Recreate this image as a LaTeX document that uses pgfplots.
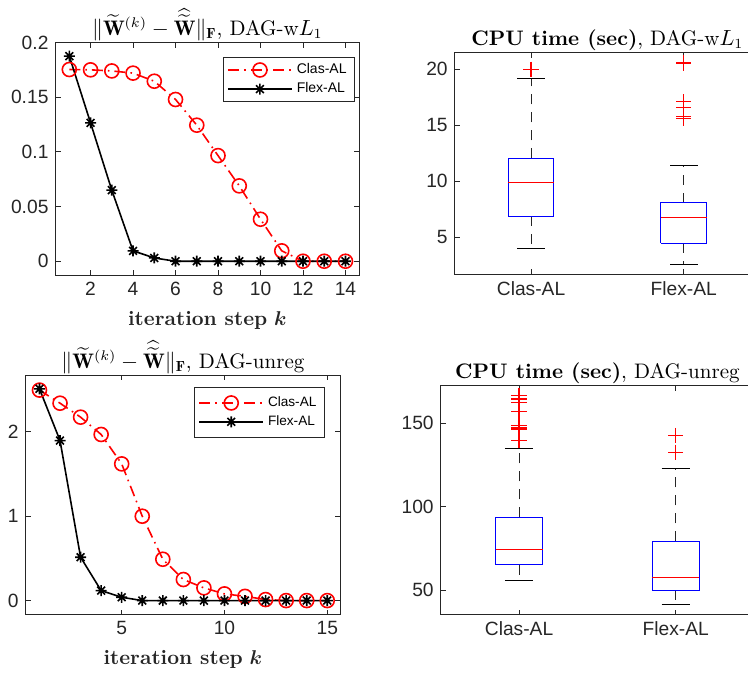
\documentclass[border=0pt]{standalone}
\usepackage{fontspec}
\usepackage{amsmath}
\usepackage{pgfplots}
\pgfplotsset{compat=1.18}
\newfontfamily\arial{Liberation Sans}
\definecolor{axgray}{RGB}{38,38,38}
\pgfdeclareplotmark{mstar}{%
  \pgfpathmoveto{\pgfqpoint{-\pgfplotmarksize}{0pt}}\pgfpathlineto{\pgfqpoint{\pgfplotmarksize}{0pt}}%
  \pgfpathmoveto{\pgfqpoint{0pt}{-\pgfplotmarksize}}\pgfpathlineto{\pgfqpoint{0pt}{\pgfplotmarksize}}%
  \pgfpathmoveto{\pgfqpoint{-0.707\pgfplotmarksize}{-0.707\pgfplotmarksize}}\pgfpathlineto{\pgfqpoint{0.707\pgfplotmarksize}{0.707\pgfplotmarksize}}%
  \pgfpathmoveto{\pgfqpoint{-0.707\pgfplotmarksize}{0.707\pgfplotmarksize}}\pgfpathlineto{\pgfqpoint{0.707\pgfplotmarksize}{-0.707\pgfplotmarksize}}%
  \pgfusepathqstroke}
\pgfplotsset{
  mstyle/.style={
    scale only axis, anchor=south west,
    axis line style={axgray, line width=0.5pt},
    tick style={axgray, line width=0.5pt},
    tick align=inside, major tick length=2.5pt,
    ticklabel style={font=\arial\fontsize{9.6}{11}\selectfont, text=axgray},
    /pgf/number format/assume math mode=true,
    every axis title/.style={font=\fontsize{10.5}{12}\selectfont, at={(axis description cs:0.5,1)}, anchor=base, yshift=3.5pt, inner sep=0pt},
    xlabel style={font=\fontsize{10.3}{12}\selectfont, at={(axis description cs:0.5,0)}, anchor=base, yshift=-25pt, inner sep=0pt, text=axgray},
    legend cell align=left,
    legend image code/.code={\draw[mark repeat=2, mark phase=2, ##1] plot coordinates {(0pt,0pt)(16pt,0pt)(32pt,0pt)};},
  },
  clas/.style={red, line width=0.8pt, dash pattern=on 5.5pt off 2.5pt on 0.8pt off 2.5pt, mark=o, mark size=3.5pt, mark options={solid, line width=0.8pt}},
  flex/.style={black, line width=0.8pt, mark=mstar, mark size=2.75pt, mark options={solid, line width=0.8pt}},
  bx/.style={blue, line width=0.5pt, no marks, forget plot},
  bmed/.style={red, line width=0.5pt, no marks, forget plot},
  bwh/.style={black!85, line width=0.45pt, dash pattern=on 5pt off 4pt, no marks, forget plot},
  bcap/.style={black, line width=0.45pt, no marks, forget plot},
  bout/.style={red, only marks, mark=+, mark size=3.8pt, mark options={line width=0.6pt}, forget plot},
}
\begin{document}
\begin{tikzpicture}
% ---------- top left ----------
\begin{axis}[mstyle, at={(27.75pt,201pt)}, width=151.9pt, height=116.25pt,
  xmin=0.35, xmax=14.65, ymin=-0.0126, ymax=0.2,
  xtick={2,4,...,14}, ytick={0,0.05,0.1,0.15,0.2}, yticklabels={0,0.05,0.1,0.15,0.2},
  title={$\|\widetilde{\mathbf{W}}^{(k)}-\widehat{\widetilde{\mathbf{W}}}\|_{\mathbf{F}}$, DAG-w$L_1$},
  xlabel={\textbf{iteration step} $\boldsymbol{k}$},
  legend style={at={(axis description cs:0.986,0.938)}, anchor=north east, draw=axgray, line width=0.5pt,
    font=\arial\fontsize{7}{8}\selectfont, inner xsep=2pt, inner ysep=1pt, row sep=-1pt}]
\addplot[clas] coordinates {(1,0.1753)(2,0.1750)(3,0.1740)(4,0.1720)(5,0.1646)(6,0.1479)(7,0.1244)(8,0.0966)(9,0.0689)(10,0.0384)(11,0.0095)(12,0)(13,0)(14,0)};
\addplot[flex] coordinates {(1,0.1875)(2,0.1265)(3,0.0650)(4,0.0095)(5,0.0030)(6,0)(7,0)(8,0)(9,0)(10,0)(11,0)(12,0)(13,0)(14,0)};
\legend{Clas-AL, Flex-AL}
\end{axis}
% ---------- bottom left ----------
\begin{axis}[mstyle, at={(12.85pt,31.25pt)}, width=157.15pt, height=119.6pt,
  xmin=0.33, xmax=15.62, ymin=-0.165, ymax=2.665,
  xtick={5,10,15}, ytick={0,1,2},
  title={$\|\widetilde{\mathbf{W}}^{(k)}-\widehat{\widetilde{\mathbf{W}}}\|_{\mathbf{F}}$, DAG-unreg},
  xlabel={\textbf{iteration step} $\boldsymbol{k}$},
  legend style={at={(axis description cs:0.952,0.951)}, anchor=north east, draw=axgray, line width=0.5pt,
    font=\arial\fontsize{6.8}{8}\selectfont, inner xsep=2pt, inner ysep=2.5pt, row sep=-1pt}]
\addplot[clas] coordinates {(1,2.49)(2,2.335)(3,2.17)(4,1.965)(5,1.617)(6,0.998)(7,0.489)(8,0.249)(9,0.15)(10,0.079)(11,0.05)(12,0.012)(13,0)(14,0)(15,0)};
\addplot[flex] coordinates {(1,2.505)(2,1.893)(3,0.513)(4,0.118)(5,0.039)(6,0)(7,0)(8,0)(9,0)(10,0)(11,0)(12,0)(13,0)(14,0)(15,0)};
\legend{Clas-AL, Flex-AL}
\end{axis}
% ---------- top right ----------
\begin{axis}[mstyle, at={(227.35pt,201.35pt)}, width=152.7pt, height=110.8pt,
  xmin=0.5, xmax=2.5, ymin=1.7, ymax=21.48,
  xtick={1,2}, xticklabels={Clas-AL,Flex-AL}, ytick={5,10,15,20},
  title={\textbf{CPU time (sec)}, DAG-w$L_1$}]
% Clas-AL
\addplot[bwh] coordinates {(1,12.05)(1,19.16)};
\addplot[bwh] coordinates {(1,6.9)(1,4.02)};
\addplot[bcap] coordinates {(0.91,19.16)(1.09,19.16)};
\addplot[bcap] coordinates {(0.91,4.02)(1.09,4.02)};
\addplot[bx] coordinates {(0.85,6.9)(1.15,6.9)(1.15,12.05)(0.85,12.05)(0.85,6.9)};
\addplot[bmed] coordinates {(0.85,9.88)(1.15,9.88)};
\addplot[bout] coordinates {(1,20.0)};
% Flex-AL
\addplot[bwh] coordinates {(2,8.1)(2,11.43)};
\addplot[bwh] coordinates {(2,4.46)(2,2.59)};
\addplot[bcap] coordinates {(1.91,11.43)(2.09,11.43)};
\addplot[bcap] coordinates {(1.91,2.59)(2.09,2.59)};
\addplot[bx] coordinates {(1.85,4.46)(2.15,4.46)(2.15,8.1)(1.85,8.1)(1.85,4.46)};
\addplot[bmed] coordinates {(1.85,6.79)(2.15,6.79)};
\addplot[bout] coordinates {(2,20.56)(2,17.1)(2,16.6)(2,15.8)(2,15.6)};
\end{axis}
% ---------- bottom right ----------
\begin{axis}[mstyle, at={(220.35pt,31.15pt)}, width=156.7pt, height=114.5pt,
  xmin=0.5, xmax=2.5, ymin=35.4, ymax=172.3,
  xtick={1,2}, xticklabels={Clas-AL,Flex-AL}, ytick={50,100,150},
  title={\textbf{CPU time (sec)}, DAG-unreg}]
% Clas-AL
\addplot[bwh] coordinates {(1,93.6)(1,134.5)};
\addplot[bwh] coordinates {(1,65.3)(1,55.8)};
\addplot[bcap] coordinates {(0.91,134.5)(1.09,134.5)};
\addplot[bcap] coordinates {(0.91,55.8)(1.09,55.8)};
\addplot[bx] coordinates {(0.85,65.3)(1.15,65.3)(1.15,93.6)(0.85,93.6)(0.85,65.3)};
\addplot[bmed] coordinates {(0.85,74.1)(1.15,74.1)};
\addplot[bout] coordinates {(1,166.3)(1,164.3)(1,162.5)(1,156.8)(1,148.4)(1,147.0)(1,146.2)(1,139.4)};
% Flex-AL
\addplot[bwh] coordinates {(2,79.3)(2,122.7)};
\addplot[bwh] coordinates {(2,50)(2,41.4)};
\addplot[bcap] coordinates {(1.91,122.7)(2.09,122.7)};
\addplot[bcap] coordinates {(1.91,41.4)(2.09,41.4)};
\addplot[bx] coordinates {(1.85,50)(2.15,50)(2.15,79.3)(1.85,79.3)(1.85,50)};
\addplot[bmed] coordinates {(1.85,57.4)(2.15,57.4)};
\addplot[bout] coordinates {(2,142.6)(2,132.5)};
\end{axis}
\pgfresetboundingbox
\useasboundingbox (0,0) rectangle (374pt,338.5pt);
\end{tikzpicture}
\end{document}
